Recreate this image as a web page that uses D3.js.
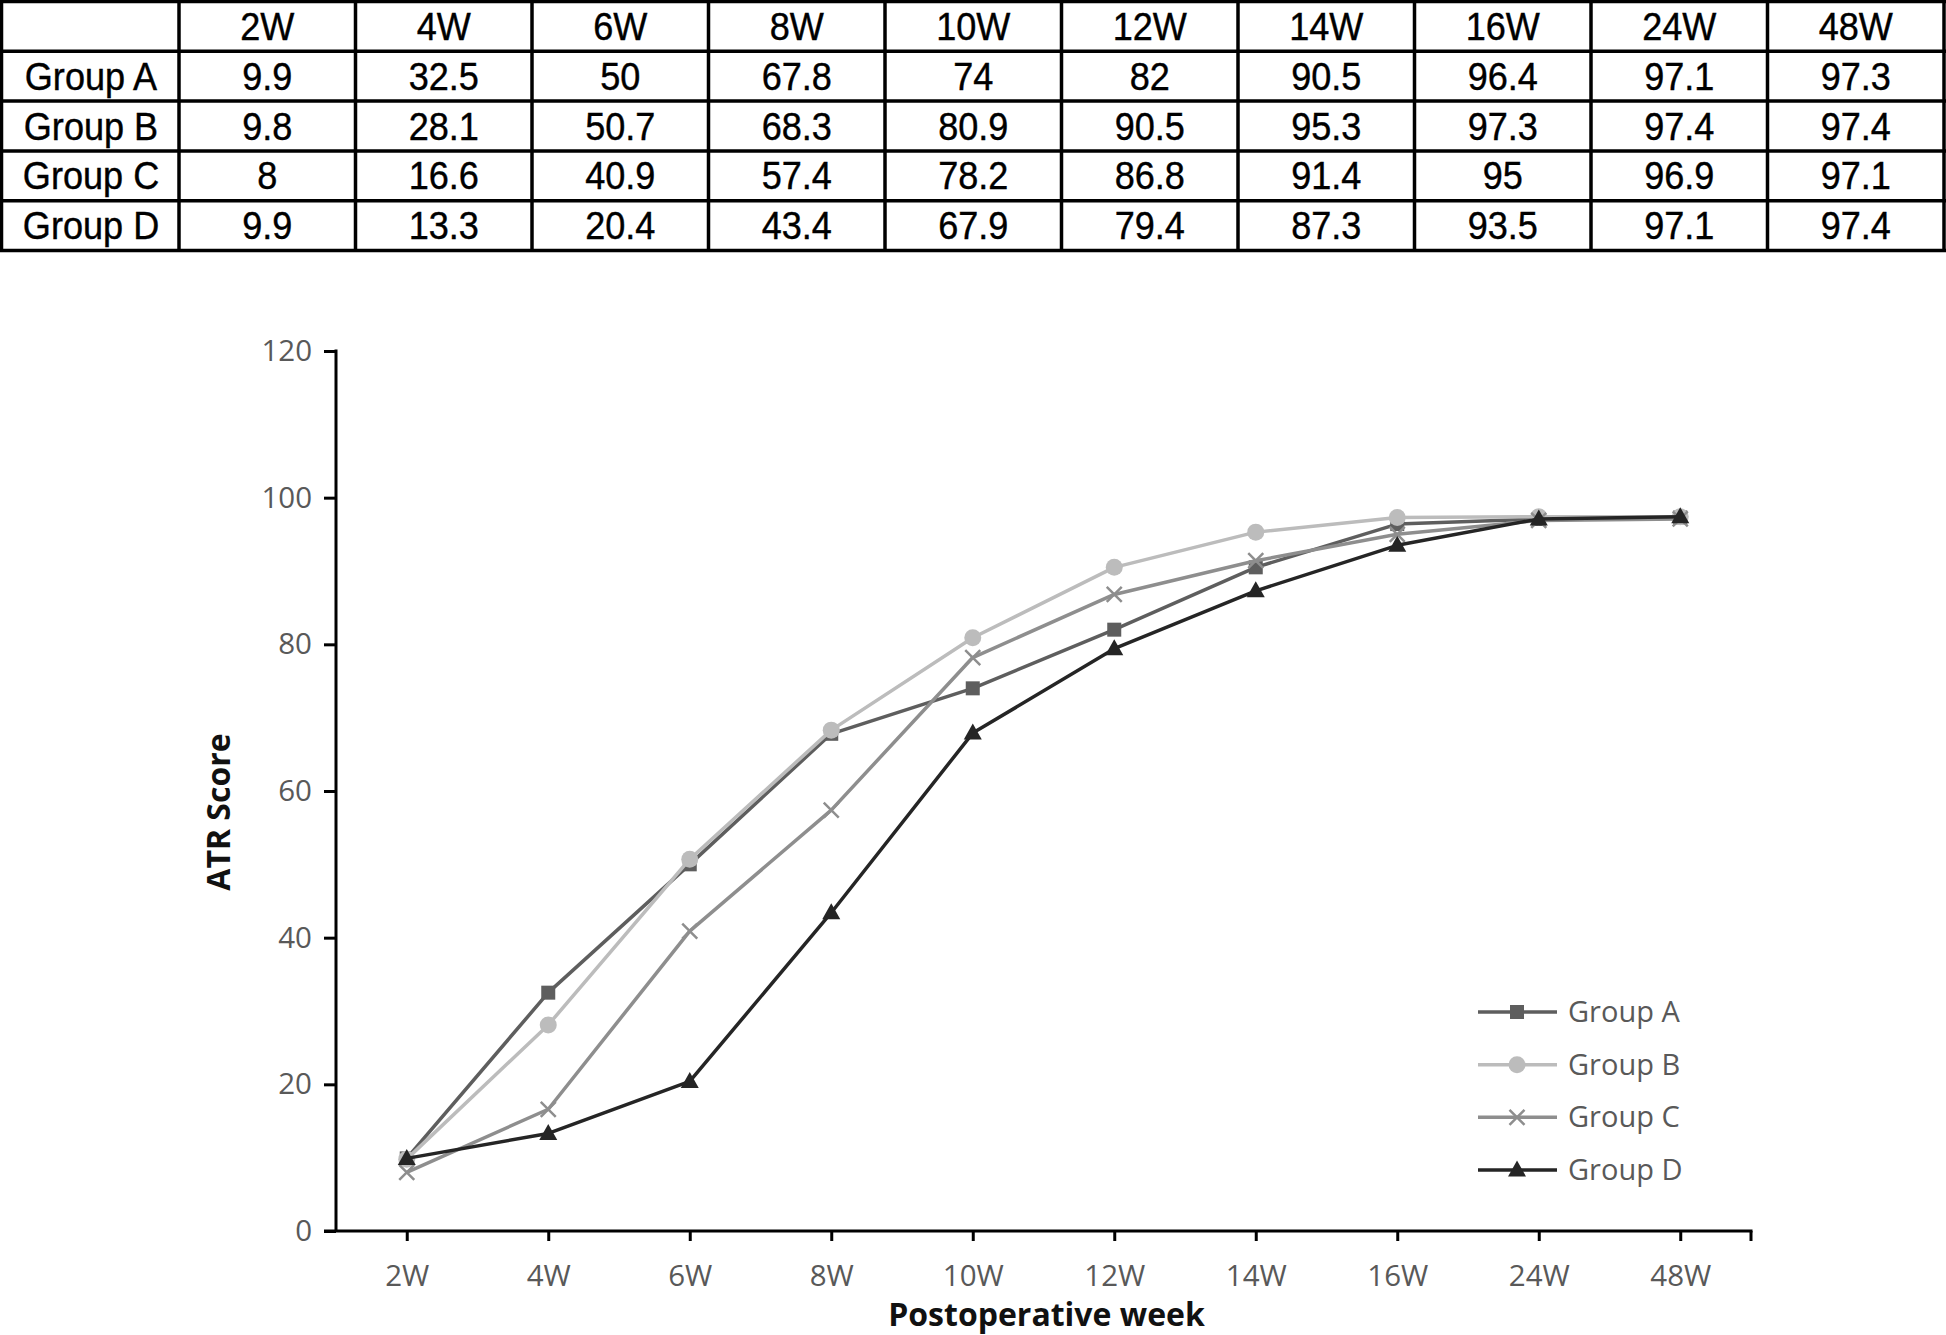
<!DOCTYPE html>
<html>
<head>
<meta charset="utf-8">
<script src="https://cdn.jsdelivr.net/npm/d3@7"></script>
<style>
  body { margin: 0; background: #fff; }
  svg { display: block; }
</style>
</head>
<body>
<div id="chart"></div>
<script>
var weeks = ["2W", "4W", "6W", "8W", "10W", "12W", "14W", "16W", "24W", "48W"];
var groups = ["Group A", "Group B", "Group C", "Group D"];
var groupA = [9.9, 32.5, 50, 67.8, 74, 82, 90.5, 96.4, 97.1, 97.3];
var groupB = [9.8, 28.1, 50.7, 68.3, 80.9, 90.5, 95.3, 97.3, 97.4, 97.4];
var groupC = [8, 16.6, 40.9, 57.4, 78.2, 86.8, 91.4, 95, 96.9, 97.1];
var groupD = [9.9, 13.3, 20.4, 43.4, 67.9, 79.4, 87.3, 93.5, 97.1, 97.4];
var yTicks = [0, 20, 40, 60, 80, 100, 120];

var series = [
    {name: groups[0], values: groupA, color: "#5e5e5e", marker: "square"},
    {name: groups[1], values: groupB, color: "#bcbcbc", marker: "circle"},
    {name: groups[2], values: groupC, color: "#8e8e8e", marker: "cross"},
    {name: groups[3], values: groupD, color: "#252525", marker: "triangle"}
];

var W = 1946, H = 1335;
var svg = d3.select("#chart").append("svg")
    .attr("width", W)
    .attr("height", H);

// ---- table on top ----
var tableFont = "'Liberation Sans', Arial, sans-serif";
var colX = d3.scaleBand().domain(weeks).range([179, 1944]);
var rowY = d3.scaleBand().domain(["head"].concat(groups)).range([1.5, 250.5]);
var table = svg.append("g");

function cellText(x, y, txt) {
    table.append("text")
        .attr("transform", "translate(" + [x, y] + ") scale(0.95,1)")
        .attr("text-anchor", "middle")
        .attr("font-family", tableFont)
        .attr("font-size", 38)
        .attr("fill", "#000")
        .attr("stroke", "#000")
        .attr("stroke-width", 0.4)
        .text(txt);
}

weeks.forEach(function(w) {
    cellText(colX(w) + colX.bandwidth() / 2, rowY("head") + rowY.bandwidth() / 2 + 13.5, w);
});
series.forEach(function(s) {
    var cy = rowY(s.name) + rowY.bandwidth() / 2 + 13.5;
    cellText(91, cy, s.name);
    s.values.forEach(function(v, i) {
        cellText(colX(weeks[i]) + colX.bandwidth() / 2, cy, v);
    });
});

// grid lines
var hLines = rowY.domain().map(function(r) { return rowY(r); }).concat([250.5]);
var vLines = [1.5, 179].concat(weeks.slice(1).map(function(w) { return colX(w); })).concat([1944]);
table.selectAll("line.h").data(hLines).enter().append("line")
    .attr("x1", 0).attr("x2", W)
    .attr("y1", function(d) { return d; }).attr("y2", function(d) { return d; })
    .attr("stroke", "#000").attr("stroke-width", 3.5);
table.selectAll("line.v").data(vLines).enter().append("line")
    .attr("y1", 0).attr("y2", 252)
    .attr("x1", function(d) { return d; }).attr("x2", function(d) { return d; })
    .attr("stroke", "#000").attr("stroke-width", 3.5);

// ---- line chart ----
var plot = {left: 336, right: 1751, top: 351, bottom: 1231};
var axisFont = "'Open Sans', sans-serif";

var xScale = d3.scalePoint()
    .domain(weeks)
    .range([plot.left, plot.right])
    .padding(0.5);

var yScale = d3.scaleLinear()
    .domain([0, 120])
    .range([plot.bottom, plot.top]);

// y axis
var yAxis = d3.axisLeft(yScale).tickValues(yTicks).tickSize(12).tickPadding(12);
var yG = svg.append("g")
    .attr("transform", "translate(" + [plot.left, 0] + ")")
    .call(yAxis);
yG.select(".domain").remove();
yG.append("line")
    .attr("x1", 0).attr("x2", 0)
    .attr("y1", plot.top - 1.5).attr("y2", plot.bottom)
    .attr("stroke", "#000").attr("stroke-width", 3);
yG.selectAll(".tick line").attr("stroke", "#000").attr("stroke-width", 3);
yG.selectAll(".tick text")
    .attr("font-family", axisFont).attr("font-size", 29.5).attr("fill", "#595959");

// x axis
var xAxis = d3.axisBottom(xScale).tickSize(10).tickPadding(0);
var xG = svg.append("g")
    .attr("transform", "translate(" + [0, plot.bottom] + ")")
    .call(xAxis);
xG.select(".domain").remove();
xG.append("line")
    .attr("x1", plot.left - 12).attr("x2", plot.right + 1.5)
    .attr("y1", 0).attr("y2", 0)
    .attr("stroke", "#000").attr("stroke-width", 3);
xG.append("line")
    .attr("x1", plot.right).attr("x2", plot.right)
    .attr("y1", 0).attr("y2", 10)
    .attr("stroke", "#000").attr("stroke-width", 3);
xG.selectAll(".tick line").attr("stroke", "#000").attr("stroke-width", 3);
xG.selectAll(".tick text")
    .attr("y", 55).attr("dy", 0)
    .attr("font-family", axisFont).attr("font-size", 29.5).attr("fill", "#595959");

// axis titles
svg.append("text")
    .attr("transform", "translate(230,812) rotate(-90)")
    .attr("text-anchor", "middle")
    .attr("font-family", axisFont).attr("font-weight", "bold").attr("font-size", 32)
    .attr("fill", "#111")
    .text("ATR Score");

svg.append("text")
    .attr("x", (plot.left + plot.right) / 2 + 3)
    .attr("y", 1326)
    .attr("text-anchor", "middle")
    .attr("font-family", axisFont).attr("font-weight", "bold").attr("font-size", 32)
    .attr("fill", "#111")
    .text("Postoperative week");

// markers
function drawMarker(g, type, color, x, y) {
    if (type === "square") {
        g.append("rect").attr("x", x - 7).attr("y", y - 7)
            .attr("width", 14).attr("height", 14).attr("fill", color);
    } else if (type === "circle") {
        g.append("circle").attr("cx", x).attr("cy", y).attr("r", 8.5).attr("fill", color);
    } else if (type === "cross") {
        g.append("path")
            .attr("d", "M" + (x - 7.5) + "," + (y - 7.5) + "L" + (x + 7.5) + "," + (y + 7.5) +
                       "M" + (x - 7.5) + "," + (y + 7.5) + "L" + (x + 7.5) + "," + (y - 7.5))
            .attr("stroke", color).attr("stroke-width", 2.5).attr("fill", "none");
    } else {
        g.append("path")
            .attr("d", "M" + x + "," + (y - 9.5) + "L" + (x + 9) + "," + (y + 6.5) + "L" + (x - 9) + "," + (y + 6.5) + "Z")
            .attr("fill", color);
    }
}

var line = d3.line()
    .x(function(d, i) { return xScale(weeks[i]); })
    .y(function(d) { return yScale(d); });

series.forEach(function(s) {
    var g = svg.append("g");
    g.append("path")
        .attr("d", line(s.values))
        .attr("fill", "none")
        .attr("stroke", s.color)
        .attr("stroke-width", 3.5)
        .attr("stroke-linejoin", "round");
    s.values.forEach(function(v, i) {
        drawMarker(g, s.marker, s.color, xScale(weeks[i]), yScale(v));
    });
});

// legend
var legendY = d3.scalePoint().domain(groups).range([1012, 1170]);
series.forEach(function(s) {
    var ly = legendY(s.name);
    var g = svg.append("g");
    g.append("line")
        .attr("x1", 1478).attr("x2", 1557)
        .attr("y1", ly).attr("y2", ly)
        .attr("stroke", s.color).attr("stroke-width", 3.5);
    drawMarker(g, s.marker, s.color, 1517, ly);
    g.append("text")
        .attr("x", 1568).attr("y", ly + 10)
        .attr("font-family", axisFont).attr("font-size", 29)
        .attr("fill", "#595959")
        .text(s.name);
});
</script>
</body>
</html>
